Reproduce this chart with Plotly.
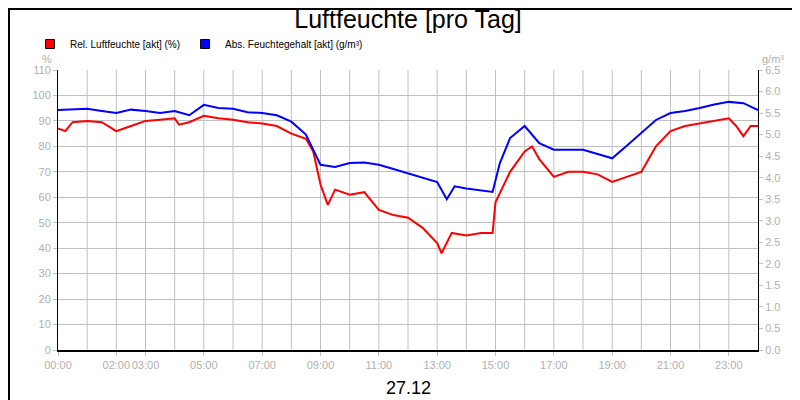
import plotly.graph_objects as go

# hours of day and readings
rel_hours = [0, 0.25, 0.5, 1, 1.5, 2, 2.5, 3, 3.5, 4, 4.15, 4.5, 5, 5.5, 6, 6.5, 7, 7.5, 8, 8.5,
             8.75, 9, 9.25, 9.5, 10, 10.5, 11, 11.5, 12, 12.5, 13, 13.15, 13.5, 14, 14.5, 14.9,
             15, 15.5, 16, 16.25, 16.5, 17, 17.5, 18, 18.5, 19, 19.5, 20, 20.5, 21, 21.5, 22,
             22.5, 23, 23.25, 23.5, 23.75, 24]
rel_humidity = [87, 86, 89.5, 90, 89.5, 86, 88, 90, 90.5, 91, 88.5, 89.5, 92, 91, 90.5, 89.5,
                89, 88, 85, 83, 78, 65, 57, 63, 61, 62, 55, 53, 52, 48, 42, 38, 46, 45, 46, 46,
                58, 70, 78, 80, 75, 68, 70, 70, 69, 66, 68, 70, 80, 86, 88, 89, 90, 91, 88, 84,
                88, 88]

abs_hours = [0, 0.5, 1, 1.5, 2, 2.5, 3, 3.5, 4, 4.5, 5, 5.5, 6, 6.5, 7, 7.5, 8, 8.5, 9, 9.5,
             10, 10.5, 11, 11.5, 12, 12.5, 13, 13.33, 13.6, 14, 14.5, 14.9, 15.15, 15.5, 16,
             16.5, 17, 17.5, 18, 18.5, 19, 19.5, 20, 20.5, 21, 21.5, 22, 22.5, 23, 23.5, 24]
abs_humidity = [5.57, 5.58, 5.6, 5.55, 5.5, 5.58, 5.55, 5.5, 5.55, 5.45, 5.69, 5.62, 5.6, 5.52,
                5.5, 5.45, 5.3, 5.0, 4.3, 4.25, 4.34, 4.35, 4.3, 4.2, 4.1, 4.0, 3.9, 3.5, 3.8,
                3.75, 3.7, 3.67, 4.34, 4.92, 5.2, 4.8, 4.65, 4.65, 4.65, 4.55, 4.45, 4.74, 5.04,
                5.34, 5.5, 5.55, 5.62, 5.7, 5.76, 5.73, 5.57]

tick_hours = [0, 2, 3, 5, 7, 9, 11, 13, 15, 17, 19, 21, 23]
tick_labels = ["%02d:00" % h for h in tick_hours]

fig = go.Figure()
fig.add_trace(go.Scatter(x=rel_hours, y=rel_humidity, mode='lines',
                         line=dict(color='#ff0000', width=2), showlegend=False))
fig.add_trace(go.Scatter(x=abs_hours, y=abs_humidity, mode='lines', yaxis='y2',
                         line=dict(color='#0000ff', width=2), showlegend=False))
# legend entries with square swatches
for name, col in [("Rel. Luftfeuchte [akt] (%)", '#ff0000'),
                  ("Abs. Feuchtegehalt [akt] (g/m³)", '#0000ff')]:
    fig.add_trace(go.Scatter(x=[None], y=[None], mode='markers', name=name,
                             marker=dict(symbol='square', size=9, color=col,
                                         line=dict(color='black', width=1))))

grid = '#c0c0c0'
tickfont = dict(color='#b0b0b0', size=11)
fig.update_layout(
    width=800, height=400,
    margin=dict(l=50, r=50, t=62, b=58, autoexpand=False),
    paper_bgcolor='white', plot_bgcolor='white',
    font=dict(family='Liberation Sans, Arial, sans-serif', color='black'),
    title=dict(text='Luftfeuchte [pro Tag]', x=0.5, xanchor='center', yref='container',
               y=0.995, yanchor='top', font=dict(size=25, color='black')),
    legend=dict(orientation='h', x=-0.04, y=1 + 26 / 280, xanchor='left', yanchor='middle',
                font=dict(size=10), tracegroupgap=0, bgcolor='rgba(0,0,0,0)'),
    xaxis=dict(range=[0, 24], tickvals=tick_hours, ticktext=tick_labels, tickfont=tickfont,
               tickangle=0, showgrid=False, zeroline=False, showline=True, linecolor='black',
               linewidth=2, ticks='outside', ticklen=4, tickcolor=grid, automargin=False),
    yaxis=dict(range=[0, 110], dtick=10, tickfont=tickfont, gridcolor=grid, zeroline=False,
               showline=True, linecolor='black', linewidth=1, ticks='outside', ticklen=4,
               tickcolor=grid, automargin=False),
    yaxis2=dict(range=[0, 6.5], dtick=0.5, tickformat='.1f', tickfont=tickfont, overlaying='y',
                side='right', showgrid=False, zeroline=False, showline=True, linecolor='black',
                linewidth=1, ticks='outside', ticklen=4, tickcolor=grid, automargin=False),
)
# hourly vertical grid lines
for h in range(1, 24):
    fig.add_vline(x=h, line_color=grid, line_width=1, layer='below')
fig.add_annotation(text='%', xref='paper', yref='paper', x=-4 / 700, y=1 + 3 / 280,
                   xanchor='right', yanchor='bottom', showarrow=False,
                   font=dict(size=11, color='#b0b0b0'))
fig.add_annotation(text='g/m³', xref='paper', yref='paper', x=1 + 2 / 700, y=1 + 3 / 280,
                   xanchor='left', yanchor='bottom', showarrow=False,
                   font=dict(size=11, color='#b0b0b0'))
fig.add_annotation(text='27.12', xref='paper', yref='paper', x=0.5, y=-50 / 280,
                   xanchor='center', yanchor='bottom', showarrow=False,
                   font=dict(size=18, color='black'))
fig.add_shape(type='rect', xref='paper', yref='paper', x0=-49 / 700, x1=1 + 49 / 700,
              y0=-57 / 280, y1=1 + 61 / 280, line=dict(color='black', width=2))
fig.write_html("out.html")
